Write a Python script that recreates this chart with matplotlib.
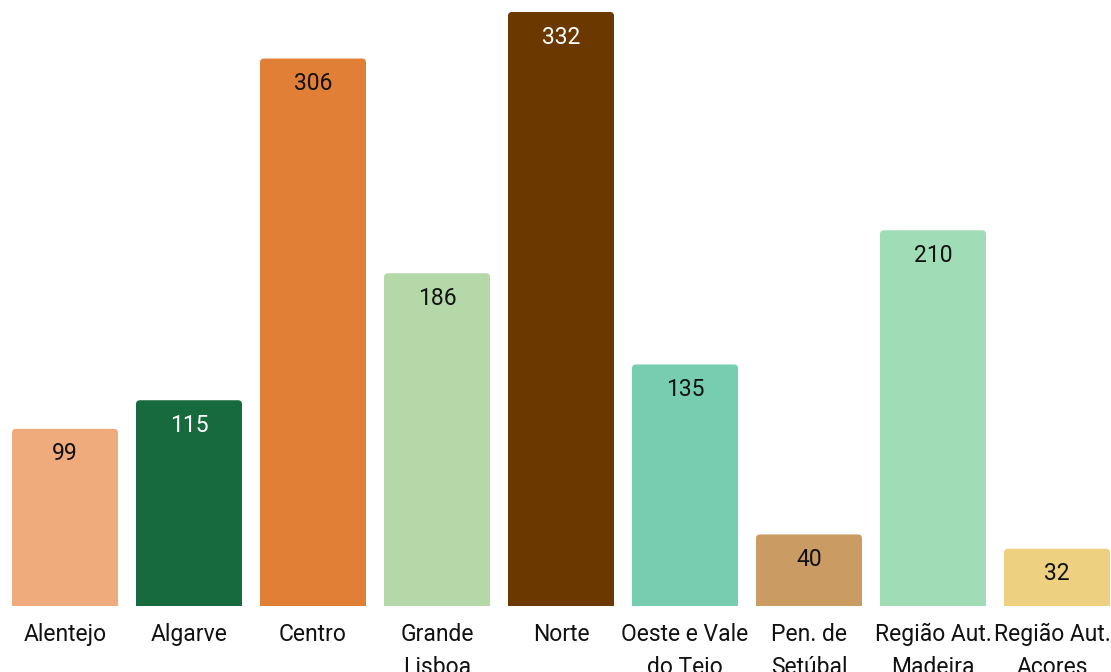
import matplotlib
matplotlib.use("Agg")
import matplotlib.pyplot as plt
import matplotlib.transforms as mtransforms
from matplotlib.patches import FancyBboxPatch

plt.rcParams['font.family'] = ['Roboto', 'DejaVu Sans']

# data
regions = ['Alentejo', 'Algarve', 'Centro', 'Grande\nLisboa', 'Norte',
           'Oeste e Vale\ndo Tejo', 'Pen. de\nSetúbal', 'Região Aut.\nMadeira',
           'Região Aut.\nAçores']
counts = [99, 115, 306, 186, 332, 135, 40, 210, 32]
colors = ['#F0AB7D', '#166A3E', '#E27F36', '#B4D8A8', '#6B3800',
          '#77CDB0', '#CA9C63', '#A0DCB5', '#EDD181']
text_colors = ['#111111', 'white', '#111111', '#111111', 'white',
               '#111111', '#111111', '#111111', '#111111']

W, H = 1111, 672
fig = plt.figure(figsize=(W / 100, H / 100), dpi=100)
# one category step is 124 px, bar is 106 px wide
step = 124
width = 106 / step
left_px = 65 - step / 2
ax = fig.add_axes([left_px / W, 66 / H, step * len(counts) / W, 594 / H])

ymax = 332
ax.set_xlim(-0.5, len(counts) - 0.5)
ax.set_ylim(0, ymax)

px_x = 1 / step
px_y = ymax / 594
radius = 4 * px_x
for i, (v, c) in enumerate(zip(counts, colors)):
    box = FancyBboxPatch((i - width / 2, -10), width, v + 10,
                         boxstyle=f"round,pad=0,rounding_size={radius}",
                         mutation_aspect=px_y / px_x,
                         facecolor=c, edgecolor='none')
    ax.add_patch(box)
    ax.annotate(str(v), (i, v), xytext=(0, -18), textcoords='offset points',
                ha='center', va='center', fontsize=16.5, color=text_colors[i])

ax.set_xticks(range(len(regions)))
ax.set_xticklabels(regions, fontsize=16.5, color='#111111', linespacing=1.55)
ax.tick_params(axis='x', length=0, pad=12)
ax.set_yticks([])
for s in ax.spines.values():
    s.set_visible(False)

# the last label is pulled in a little so it stays inside the figure
last = ax.get_xticklabels()[-1]
last.set_transform(last.get_transform() +
                   mtransforms.ScaledTranslation(-5 / 100, 0, fig.dpi_scale_trans))

fig.savefig('out.png', dpi=100)
